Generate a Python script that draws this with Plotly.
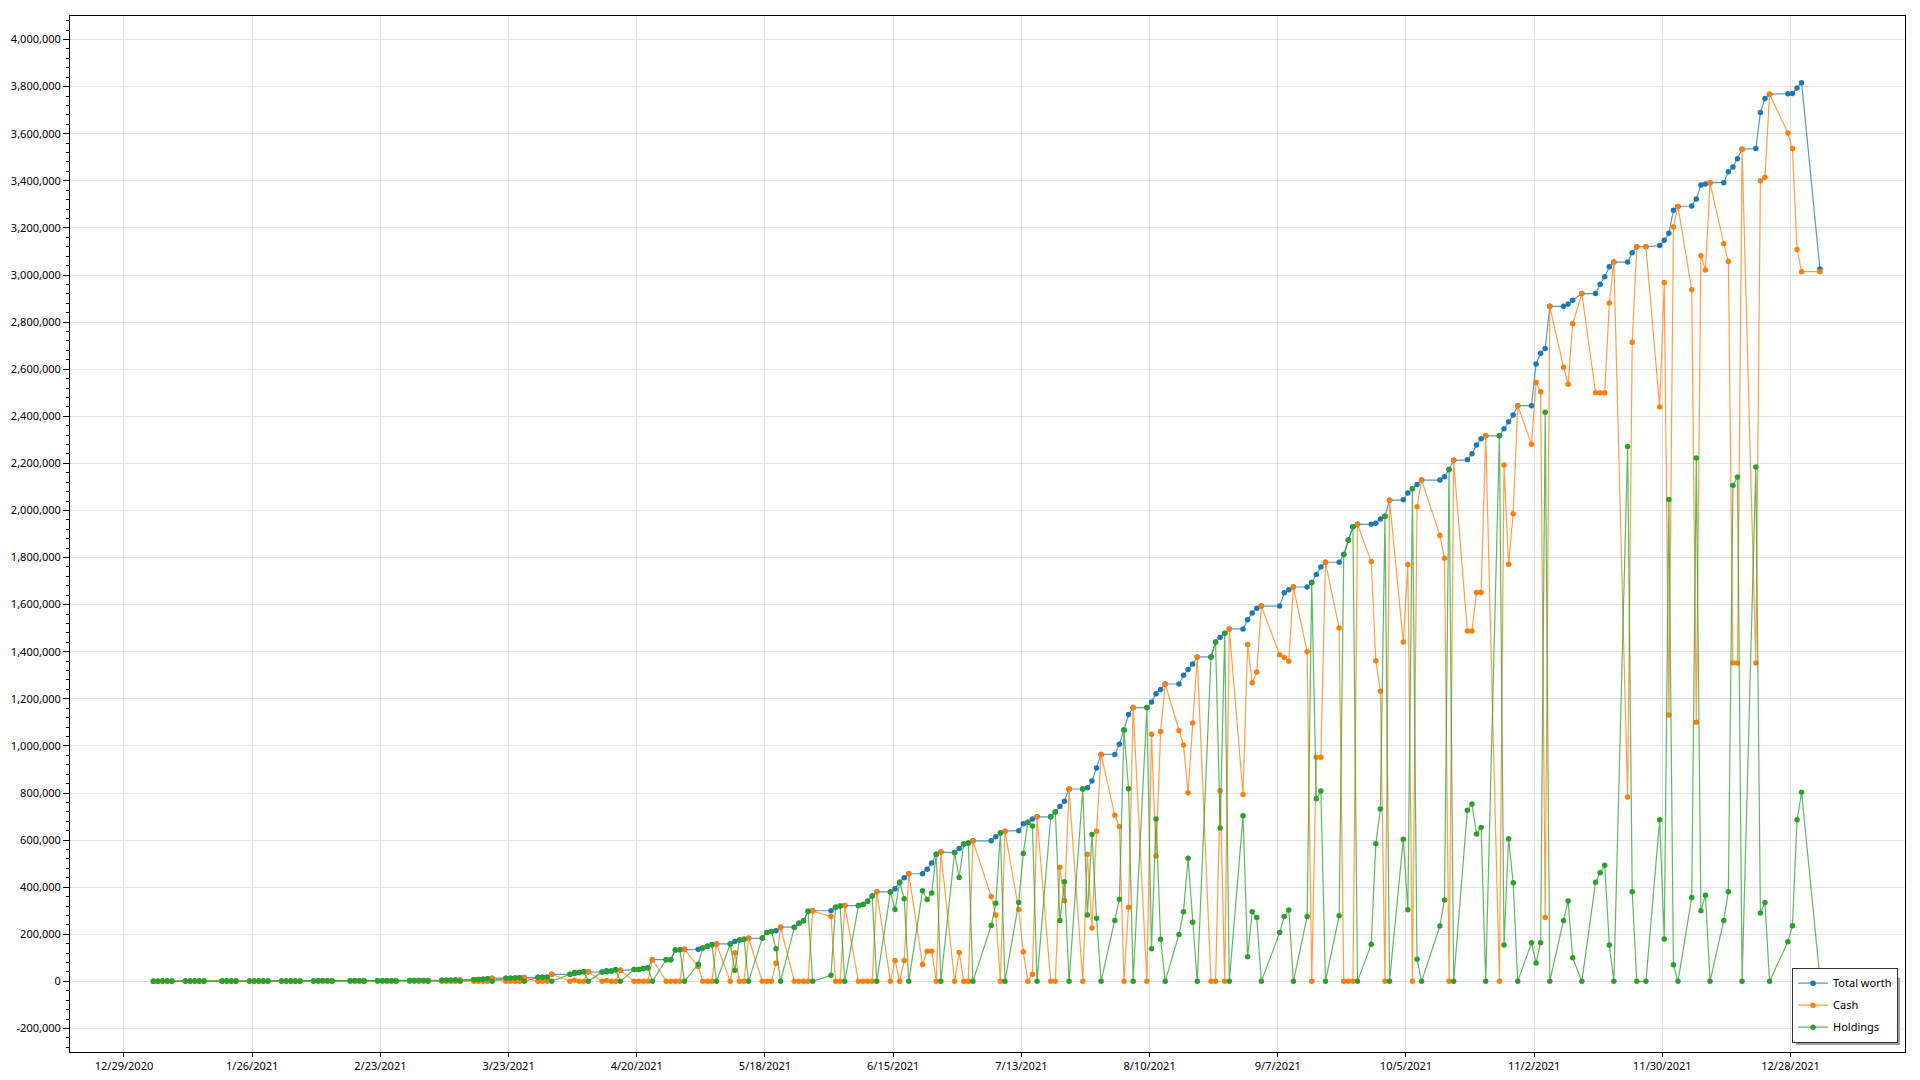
import pandas as pd
import plotly.graph_objects as go

# ---- trading calendar (points are plotted on each trading day) ----
holidays = ["2021-01-18", "2021-02-15", "2021-04-02", "2021-05-31", "2021-07-05",
            "2021-09-06", "2021-10-11", "2021-11-11", "2021-11-25", "2021-12-24",
            "2021-12-31"]
dates = pd.bdate_range("2021-01-04", "2022-01-03", freq="C", holidays=holidays)

# ---- values in thousands of dollars ----
total_k = [
    1.0, 1.0, 1.1, 1.1, 1.1, 1.1, 1.2, 1.2, 1.3, 1.3, 1.3, 1.4, 1.4, 1.5,
    1.5, 1.6, 1.6, 1.7, 1.7,
    1.7, 1.8, 1.9, 1.9, 2.0, 2.0, 2.1, 2.2, 2.3, 2.3, 2.4, 2.5, 2.6, 2.6,
    2.7, 2.8, 2.9, 3.0, 3.1,
    3.2, 3.4, 3.6, 3.8, 4.0, 4.3, 4.7, 5.2, 5.8, 6.3, 7, 8, 9, 11, 13,
    13, 13, 14, 15, 16, 17, 17, 18, 30,
    30, 38, 38, 41, 41, 40, 45, 44, 49, 47, 50, 50, 55, 58, 92,
    92, 92, 133, 134, 136,
    136, 142, 149, 155, 159, 159, 169, 176, 179, 183, 184, 208, 212, 215, 230,
    230, 247, 257, 298, 300,
    300, 315, 320, 322, 322, 326, 340, 363, 380, 380, 393, 421, 440, 457,
    457, 476, 503, 540, 549, 547, 564, 583, 588, 597,
    597, 614, 630, 638, 640, 669, 676, 690, 699, 699, 719, 743, 765, 817,
    817, 822, 851, 906, 964,
    964, 1007, 1068, 1133, 1163, 1163, 1187, 1222, 1240, 1263,
    1263, 1300, 1324, 1348, 1378, 1378, 1441, 1461, 1478, 1497,
    1497, 1536, 1564, 1585, 1594,
    1594, 1650, 1663, 1675, 1675, 1694, 1728, 1760, 1780,
    1780, 1813, 1875, 1931, 1941, 1941, 1946, 1964, 1975, 2043,
    2045, 2074, 2092, 2110, 2129, 2129, 2143, 2174, 2213,
    2215, 2241, 2278, 2305, 2317, 2317, 2347, 2377, 2405, 2445,
    2445, 2622, 2668, 2688, 2867, 2867, 2877, 2893, 2921,
    2921, 2961, 2993, 3035, 3055, 3055, 3095, 3120, 3120,
    3125, 3148, 3177, 3275, 3291,
    3293, 3323, 3382, 3387, 3392, 3392, 3438, 3459, 3494, 3534,
    3537, 3690, 3750, 3768, 3770, 3771, 3794, 3817,
    3026,
]

cash_k = [
    0, 0, 0, 0, 1.1, 0, 0, 0, 0, 1.3, 0, 0, 0, 1.5,
    0, 0, 0, 0, 1.7,
    0, 0, 0, 0, 2.0, 0, 0, 0, 0, 2.3, 0, 0, 0, 2.6,
    0, 0, 0, 0, 3.1,
    0, 0, 0, 0, 4.0, 0, 0, 0, 0, 6.3, 0, 0, 0, 0, 13,
    0, 0, 0, 0, 16, 0, 0, 0, 30,
    0, 5, 0, 0, 41, 0, 4, 0, 0, 47, 0, 0, 0, 0, 92,
    0, 0, 0, 0, 136,
    63, 0, 0, 0, 159, 0, 122, 0, 0, 183, 0, 0, 0, 77, 230,
    0, 0, 0, 0, 300,
    275, 0, 0, 322, 0, 0, 0, 0, 380, 0, 89, 0, 89, 457,
    72, 128, 128, 0, 549, 0, 123, 0, 0, 597,
    360, 282, 0, 638, 305, 126, 0, 30, 699, 0, 0, 485, 342, 817,
    0, 540, 227, 638, 964,
    705, 658, 0, 315, 1163, 0, 1049, 532, 1061, 1263,
    1064, 1004, 801, 1097, 1378, 0, 0, 810, 0, 1497,
    794, 1431, 1268, 1314, 1594,
    1387, 1375, 1360, 1675, 1400, 0, 952, 952, 1780,
    1501, 0, 0, 0, 1941, 1783, 1362, 1232, 0, 2043,
    1441, 1770, 0, 2016, 2129, 1894, 1797, 0, 2213,
    1488, 1488, 1652, 1652, 2317, 0, 2193, 1771, 1986, 2445,
    2281, 2544, 2504, 271, 2867, 2608, 2536, 2793, 2921,
    2500, 2500, 2500, 2881, 3055, 783, 2714, 3120, 3120,
    2439, 2968, 1131, 3204, 3291,
    2937, 1100, 3082, 3021, 3392, 3133, 3057, 1352, 1352, 3534,
    1352, 3400, 3415, 3768, 3603, 3537, 3108, 3014,
    3014,
]

holdings_k = [
    1.0, 1.0, 1.1, 1.1, 0, 1.1, 1.2, 1.2, 1.3, 0, 1.3, 1.4, 1.4, 0,
    1.5, 1.6, 1.6, 1.7, 0,
    1.7, 1.8, 1.9, 1.9, 0, 2.0, 2.1, 2.2, 2.3, 0, 2.4, 2.5, 2.6, 0,
    2.7, 2.8, 2.9, 3.0, 0,
    3.2, 3.4, 3.6, 3.8, 0, 4.3, 4.7, 5.2, 5.8, 0, 7, 8, 9, 11, 0,
    13, 13, 14, 15, 0, 17, 17, 18, 0,
    30, 33, 38, 41, 0, 40, 41, 44, 49, 0, 50, 50, 55, 58, 0,
    92, 92, 133, 134, 0,
    73, 142, 149, 155, 0, 159, 47, 176, 179, 0, 184, 208, 212, 138, 0,
    230, 247, 257, 298, 0,
    26, 315, 320, 0, 322, 326, 340, 363, 0, 380, 305, 421, 351, 0,
    385, 348, 375, 540, 0, 547, 441, 583, 588, 0,
    237, 332, 630, 0, 335, 543, 676, 660, 0, 699, 719, 258, 423, 0,
    817, 282, 624, 268, 0,
    259, 349, 1068, 818, 0, 1163, 138, 690, 179, 0,
    199, 296, 523, 251, 0, 1378, 1441, 651, 1478, 0,
    703, 105, 296, 271, 0,
    207, 275, 303, 0, 275, 1694, 776, 808, 0,
    279, 1813, 1875, 1931, 0, 158, 584, 732, 1975, 0,
    604, 304, 2092, 94, 0, 235, 346, 2174, 0,
    727, 753, 626, 653, 0, 2317, 154, 606, 419, 0,
    164, 78, 164, 2417, 0, 259, 341, 100, 0,
    421, 461, 493, 154, 0, 2272, 381, 0, 0,
    686, 180, 2046, 71, 0,
    356, 2223, 300, 366, 0, 259, 381, 2107, 2142, 0,
    2185, 290, 335, 0, 168, 236, 686, 803,
    12,
]

assert len(dates) == len(total_k) == len(cash_k) == len(holdings_k)

series_names = ["Total worth", "Cash", "Holdings"]
series_values = [total_k, cash_k, holdings_k]
marker_colors = ["#1f77b4", "#ff7f0e", "#2ca02c"]
line_colors = ["rgba(31,119,180,0.75)", "rgba(255,127,14,0.75)", "rgba(44,160,44,0.75)"]

y_tick_values = list(range(-200000, 4000001, 200000))
y_tick_labels = [f"{v:,}" for v in y_tick_values]

x_positions = dates + pd.Timedelta(hours=10)

fig = go.Figure()
for name, vals, mc, lc in zip(series_names, series_values, marker_colors, line_colors):
    fig.add_trace(go.Scatter(
        x=x_positions, y=[v * 1000 for v in vals], name=name, legendgroup=name,
        mode="lines+markers",
        line=dict(color=lc, width=1.2),
        marker=dict(color=mc, size=5.5),
    ))

# soft drop shadow behind the legend box (right / bottom edges)
fig.add_shape(type="rect", xref="paper", yref="paper",
              x0=0.9406, x1=0.9973, y0=0.0068, y1=0.0719,
              fillcolor="#a0a0a0", line=dict(width=0), layer="above")

fig.update_layout(
    width=1920, height=1080,
    margin=dict(l=70, r=15, t=16, b=28, autoexpand=False),
    paper_bgcolor="white", plot_bgcolor="white",
    font=dict(family="Noto Sans, DejaVu Sans, sans-serif", size=11, color="#000000"),
    legend=dict(x=0.9962, y=0.009, xanchor="right", yanchor="bottom",
                bgcolor="white", bordercolor="#333333", borderwidth=1,
                font=dict(size=11), itemwidth=30, tracegroupgap=3),
    showlegend=True,
)
fig.update_xaxes(
    type="date", range=["2020-12-17 05:00", "2022-01-22 00:00"],
    tick0="2020-12-29", dtick=28 * 86400000, tickformat="%-m/%-d/%Y",
    showgrid=True, gridcolor="#e3e3e3", gridwidth=1,
    ticks="outside", ticklen=4, tickcolor="black", automargin=False,
    showline=True, linecolor="black", linewidth=1, mirror=True, zeroline=False,
)
fig.update_yaxes(
    range=[-300000, 4100000], tickmode="array",
    tickvals=y_tick_values, ticktext=y_tick_labels,
    showgrid=True, gridcolor="#e3e3e3", gridwidth=1,
    ticks="outside", ticklen=6, tickcolor="black", automargin=False,
    minor=dict(tickmode="linear", tick0=0, dtick=40000, ticks="outside",
               ticklen=3, tickcolor="black", showgrid=False),
    showline=True, linecolor="black", linewidth=1, mirror=True, zeroline=False,
)

fig.write_html("out.html", config={"displayModeBar": False},
               post_script="document.body.style.margin='0';document.body.style.overflow='hidden';")
